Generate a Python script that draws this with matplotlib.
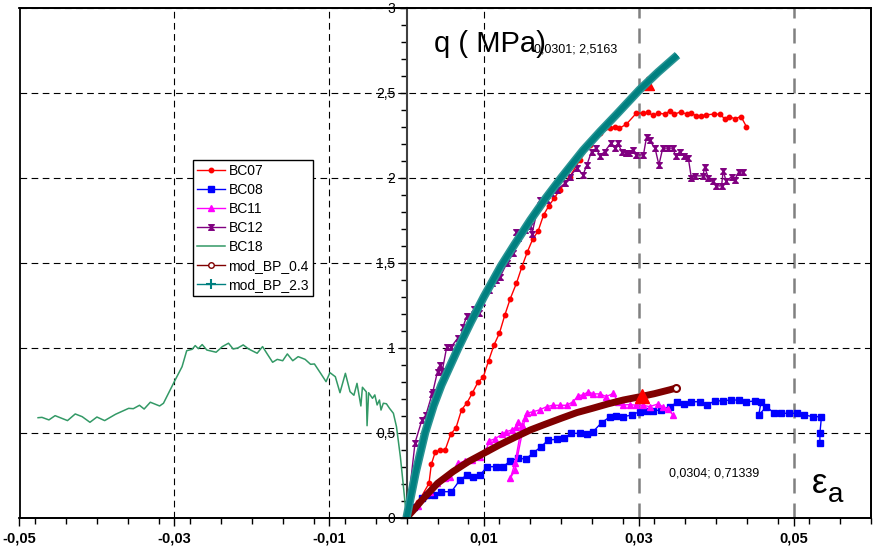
import numpy as np
import matplotlib
matplotlib.use('agg')
import matplotlib.pyplot as plt
from matplotlib.path import Path
from matplotlib.lines import Line2D
from matplotlib.patches import Rectangle
from matplotlib.ticker import FixedLocator, MultipleLocator, FuncFormatter

plt.rcParams['font.family'] = ['Liberation Sans', 'DejaVu Sans']

# test data: axial strain, deviator stress q (MPa)
bc07 = np.array([
    (0, 0), (0.0015, 0.09), (0.0029, 0.202), (0.0032, 0.314), (0.0037, 0.385),
    (0.0043, 0.396), (0.0050, 0.400), (0.0057, 0.490), (0.0064, 0.530),
    (0.0071, 0.634), (0.0078, 0.675), (0.0085, 0.733), (0.0092, 0.795),
    (0.0099, 0.825), (0.0106, 0.923), (0.0113, 1.016), (0.0120, 1.085),
    (0.0127, 1.192), (0.0134, 1.288), (0.0142, 1.379), (0.0149, 1.475),
    (0.0156, 1.562), (0.0163, 1.638), (0.0170, 1.686), (0.0177, 1.780),
    (0.0184, 1.835), (0.0191, 1.880), (0.0198, 1.928), (0.0211, 2.006),
    (0.0224, 2.104), (0.0237, 2.192), (0.0250, 2.261), (0.0263, 2.290),
    (0.0269, 2.300), (0.0275, 2.290), (0.0284, 2.314), (0.0297, 2.379),
    (0.0306, 2.379), (0.0312, 2.385), (0.0318, 2.365), (0.0325, 2.379),
    (0.0334, 2.373), (0.0340, 2.392), (0.0346, 2.373), (0.0354, 2.386),
    (0.0362, 2.373), (0.0368, 2.379), (0.0374, 2.363), (0.0381, 2.363),
    (0.0387, 2.369), (0.0397, 2.373), (0.0405, 2.373), (0.0411, 2.345),
    (0.0417, 2.359), (0.0424, 2.345), (0.0432, 2.359), (0.0439, 2.300)])

bc08 = np.array([
    (0, 0), (0.0009, 0.065), (0.0020, 0.114), (0.0026, 0.134), (0.0036, 0.134),
    (0.0045, 0.153), (0.0058, 0.153), (0.0069, 0.222), (0.0078, 0.251),
    (0.0086, 0.241), (0.0095, 0.251), (0.0104, 0.300), (0.0116, 0.300),
    (0.0125, 0.300), (0.0134, 0.335), (0.0144, 0.349), (0.0154, 0.345),
    (0.0163, 0.379), (0.0174, 0.418), (0.0183, 0.457), (0.0194, 0.461),
    (0.0203, 0.467), (0.0213, 0.496), (0.0224, 0.496), (0.0233, 0.492),
    (0.0241, 0.506), (0.0252, 0.559), (0.0263, 0.594), (0.0271, 0.598),
    (0.0280, 0.594), (0.0291, 0.604), (0.0301, 0.624), (0.0310, 0.628),
    (0.0319, 0.628), (0.0329, 0.634), (0.0340, 0.653), (0.0350, 0.679),
    (0.0359, 0.669), (0.0368, 0.682), (0.0379, 0.682), (0.0388, 0.663),
    (0.0398, 0.686), (0.0409, 0.688), (0.0419, 0.692), (0.0429, 0.692),
    (0.0439, 0.682), (0.0450, 0.686), (0.0458, 0.682), (0.0455, 0.604),
    (0.0465, 0.653), (0.0475, 0.614), (0.0484, 0.614), (0.0494, 0.614),
    (0.0504, 0.614), (0.0514, 0.604), (0.0525, 0.594), (0.0536, 0.594),
    (0.0534, 0.496), (0.0534, 0.441)])

bc11 = np.array([
    (0, 0), (0.0015, 0.070), (0.0030, 0.153), (0.0039, 0.202), (0.0050, 0.231),
    (0.0056, 0.241), (0.0067, 0.320), (0.0075, 0.333), (0.0084, 0.339),
    (0.0095, 0.359), (0.0103, 0.398), (0.0107, 0.453), (0.0114, 0.463),
    (0.0123, 0.490), (0.0129, 0.506), (0.0136, 0.516), (0.0142, 0.535),
    (0.0144, 0.565), (0.0149, 0.545), (0.0140, 0.320), (0.0134, 0.231),
    (0.0140, 0.280), (0.0151, 0.535), (0.0153, 0.584), (0.0155, 0.614),
    (0.0164, 0.624), (0.0172, 0.634), (0.0181, 0.653), (0.0189, 0.661),
    (0.0198, 0.661), (0.0207, 0.661), (0.0215, 0.682), (0.0222, 0.718),
    (0.0228, 0.722), (0.0235, 0.741), (0.0241, 0.728), (0.0250, 0.728),
    (0.0258, 0.712), (0.0267, 0.731), (0.0273, 0.682), (0.0280, 0.663),
    (0.0289, 0.665), (0.0297, 0.661), (0.0306, 0.661), (0.0314, 0.653),
    (0.0325, 0.669), (0.0331, 0.653), (0.0338, 0.638), (0.0344, 0.604)])

bc12 = np.array([
    (0, 0), (0.0011, 0.441), (0.0020, 0.577), (0.0025, 0.604), (0.0033, 0.727),
    (0.0034, 0.741), (0.0040, 0.859), (0.0043, 0.898), (0.0046, 0.860),
    (0.0052, 1.006), (0.0058, 1.006), (0.0066, 1.055), (0.0069, 1.040),
    (0.0073, 1.124), (0.0078, 1.187), (0.0082, 1.180), (0.0087, 1.226),
    (0.0093, 1.202), (0.0098, 1.270), (0.0106, 1.339), (0.0111, 1.379),
    (0.0116, 1.398), (0.0121, 1.418), (0.0130, 1.500), (0.0138, 1.555),
    (0.0142, 1.682), (0.0144, 1.643), (0.0153, 1.692), (0.0159, 1.716),
    (0.0162, 1.670), (0.0172, 1.869), (0.0181, 1.869), (0.0187, 1.908),
    (0.0194, 1.928), (0.0205, 1.967), (0.0211, 2.006), (0.0220, 2.055),
    (0.0228, 2.016), (0.0233, 2.075), (0.0239, 2.153), (0.0245, 2.173),
    (0.0250, 2.127), (0.0256, 2.153), (0.0264, 2.202), (0.0269, 2.173),
    (0.0273, 2.202), (0.0278, 2.153), (0.0283, 2.143), (0.0288, 2.143),
    (0.0293, 2.163), (0.0297, 2.133), (0.0306, 2.133), (0.0310, 2.237),
    (0.0314, 2.218), (0.0321, 2.173), (0.0326, 2.075), (0.0331, 2.173),
    (0.0338, 2.173), (0.0344, 2.173), (0.0348, 2.124), (0.0353, 2.153),
    (0.0359, 2.124), (0.0364, 2.114), (0.0368, 1.997), (0.0372, 2.010),
    (0.0383, 2.010), (0.0385, 2.060), (0.0390, 2.000), (0.0396, 1.977),
    (0.0400, 1.951), (0.0407, 1.951), (0.0409, 2.041), (0.0413, 1.977),
    (0.0420, 2.006), (0.0424, 1.987), (0.0429, 2.033), (0.0434, 2.033)])

bc18 = np.array([
    (-0.0476, 0.588), (-0.0471, 0.590), (-0.0462, 0.575), (-0.0454, 0.600),
    (-0.0438, 0.571), (-0.0428, 0.610), (-0.0419, 0.594), (-0.0409, 0.561),
    (-0.0400, 0.592), (-0.0390, 0.571), (-0.0376, 0.608), (-0.0359, 0.643),
    (-0.0353, 0.641), (-0.0345, 0.661), (-0.0339, 0.639), (-0.0331, 0.679),
    (-0.0319, 0.657), (-0.0314, 0.673), (-0.0300, 0.800), (-0.0290, 0.888),
    (-0.0284, 0.982), (-0.0277, 0.990), (-0.0273, 1.012), (-0.0269, 0.994),
    (-0.0264, 1.018), (-0.0258, 0.986), (-0.0246, 0.973), (-0.0238, 1.006),
    (-0.0230, 1.026), (-0.0224, 0.992), (-0.0218, 0.998), (-0.0211, 1.016),
    (-0.0204, 0.992), (-0.0193, 0.967), (-0.0186, 1.006), (-0.0180, 0.963),
    (-0.0173, 0.914), (-0.0167, 0.931), (-0.0160, 0.923), (-0.0154, 0.963),
    (-0.0147, 0.923), (-0.0140, 0.947), (-0.0131, 0.931), (-0.0124, 0.902),
    (-0.0119, 0.904), (-0.0111, 0.849), (-0.0104, 0.800), (-0.0099, 0.853),
    (-0.0092, 0.829), (-0.0086, 0.735), (-0.0079, 0.849), (-0.0073, 0.741),
    (-0.0068, 0.720), (-0.0064, 0.790), (-0.0059, 0.657), (-0.0057, 0.767),
    (-0.0052, 0.740), (-0.0051, 0.541), (-0.0049, 0.735), (-0.0044, 0.702),
    (-0.0041, 0.722), (-0.0038, 0.663), (-0.0035, 0.692), (-0.0033, 0.633),
    (-0.0030, 0.673), (-0.0026, 0.670), (-0.0022, 0.643), (-0.0017, 0.614),
    (-0.0013, 0.535), (-0.0008, 0.359), (-0.0004, 0.182), (0.0, 0.0)])

# model curves
mod_04 = np.array([
    (0, 0), (0.0009, 0.045), (0.0020, 0.104), (0.0040, 0.202), (0.0060, 0.271),
    (0.0080, 0.330), (0.0100, 0.379), (0.0120, 0.428), (0.0140, 0.473),
    (0.0160, 0.516), (0.0180, 0.551), (0.0200, 0.585), (0.0220, 0.618),
    (0.0240, 0.643), (0.0260, 0.669), (0.0280, 0.692), (0.0304, 0.71339),
    (0.0320, 0.729), (0.0340, 0.752), (0.0348, 0.762)])

mod_23 = np.array([
    (0, 0), (0.0012, 0.27), (0.0024, 0.50), (0.0035, 0.66), (0.0045, 0.78),
    (0.0056, 0.89), (0.0067, 1.00), (0.0083, 1.15), (0.0100, 1.30),
    (0.0122, 1.48), (0.0140, 1.61), (0.0160, 1.75), (0.0180, 1.88),
    (0.0200, 2.00), (0.0228, 2.16), (0.0250, 2.27), (0.0271, 2.37),
    (0.0301, 2.5163), (0.0325, 2.62), (0.0350, 2.72)])

# picked points
pick_x = [0.0301, 0.0304]
pick_y = [2.5163, 0.71339]


def comma(v, pos=None):
    return ('%g' % v).replace('.', ',')


# hourglass marker for BC12
hourglass = Path([(-1, 1), (1, 1), (-1, -1), (1, -1), (-1, 1)],
                 [Path.MOVETO, Path.LINETO, Path.LINETO, Path.LINETO, Path.CLOSEPOLY])
# triangle hanging off its lower-left corner
corner_tri = Path([(0, 0), (2, 0), (1, 1.9), (0, 0)],
                  [Path.MOVETO, Path.LINETO, Path.LINETO, Path.CLOSEPOLY])

fig = plt.figure(figsize=(8.73, 5.46), dpi=100)
ax = fig.add_axes([19.5 / 873, 1 - 517.7 / 546, 851.5 / 873, 510.2 / 546])

ax.plot(bc07[:, 0], bc07[:, 1], color='#ff0000', lw=1, marker='o', ms=3.2, label='BC07')
ax.plot(bc08[:, 0], bc08[:, 1], color='#0000ff', lw=1, marker='s', ms=4, label='BC08')
ax.plot(bc11[:, 0], bc11[:, 1], color='#ff00ff', lw=1, marker='^', ms=4.5, label='BC11')
ax.plot(bc12[:, 0], bc12[:, 1], color='#800080', lw=1, marker=hourglass, ms=4, label='BC12')
ax.plot(bc18[:, 0], bc18[:, 1], color='#339966', lw=1.1, label='BC18')

ax.plot(mod_04[:, 0], mod_04[:, 1], color='#800000', lw=5, solid_capstyle='butt',
        solid_joinstyle='round', zorder=3)
ax.plot(mod_04[-1:, 0], mod_04[-1:, 1], ls='none', marker='o', ms=5, mfc='white',
        mec='#800000', mew=1.5, zorder=3)
ax.plot(pick_x[1:], pick_y[1:], ls='none', marker='^', ms=10, color='#ff0000', zorder=4)

ax.plot(pick_x[:1], pick_y[:1], ls='none', marker=corner_tri, ms=20, color='#ff0000',
        zorder=4)
ax.plot(mod_23[:, 0], mod_23[:, 1], color='#2a9494', lw=6, solid_capstyle='butt',
        solid_joinstyle='round', zorder=5)
ax.plot(mod_23[:, 0], mod_23[:, 1], color='#008080', lw=3.8, solid_capstyle='butt',
        solid_joinstyle='round', zorder=5)

ax.set_xlim(-0.05, 0.06)
ax.set_ylim(0, 3)

# y axis drawn through zero strain, outer frame kept as a box
ax.spines['left'].set_position(('data', 0))
ax.spines['left'].set_color('#404040')
ax.spines['left'].set_linewidth(1.5)
for s in ['top', 'right', 'bottom']:
    ax.spines[s].set_linewidth(1.3)
ax.add_patch(Rectangle((0, 0), 1, 1, transform=ax.transAxes, fill=False,
                       lw=1.3, ec='black', zorder=6, clip_on=False))

ax.xaxis.set_major_locator(FixedLocator([-0.05, -0.03, -0.01, 0.01, 0.03, 0.05]))
ax.xaxis.set_minor_locator(MultipleLocator(0.004))
ax.yaxis.set_major_locator(MultipleLocator(0.5))
ax.yaxis.set_minor_locator(MultipleLocator(0.1))
ax.xaxis.set_major_formatter(FuncFormatter(comma))
ax.yaxis.set_major_formatter(FuncFormatter(comma))
ax.tick_params(axis='x', which='major', direction='out', length=6, width=1, pad=4)
ax.tick_params(axis='x', which='minor', direction='out', length=4, width=1)
ax.tick_params(axis='y', which='major', direction='out', length=5, width=1, pad=3,
               labelsize=10)
ax.tick_params(axis='y', which='minor', direction='out', length=4, width=1)
for lab in ax.get_xticklabels():
    lab.set_family(['Liberation Sans Narrow', 'Liberation Sans', 'DejaVu Sans'])
    lab.set_fontweight('bold')
    lab.set_fontsize(10.5)

ax.grid(True, which='major', color='black', ls=(0, (6, 4)), lw=0.8)
for t in ax.xaxis.get_major_ticks():
    if t.get_loc() > 0.02:
        t.gridline.set_color('#808080')
        t.gridline.set_linewidth(1.8)
ax.set_axisbelow(True)

ax.text(0.01077, 2.741, 'q ( MPa)', fontsize=21, ha='center', va='baseline')
ax.text(0.0165, 2.735, comma(pick_x[0]) + '; ' + comma(pick_y[0]), fontsize=9,
        ha='left', va='baseline')
ax.text(0.0339, 0.241, comma(pick_x[1]) + '; ' + comma(pick_y[1]), fontsize=9,
        ha='left', va='baseline')
ax.text(0.0524, 0.1435, 'ε', fontsize=25, ha='left', va='baseline')
ax.text(0.0544, 0.094, 'a', fontsize=20, ha='left', va='baseline')

handles, labels = ax.get_legend_handles_labels()
handles.append(Line2D([], [], color='#800000', lw=1, marker='o', ms=4, mfc='white',
                      mec='#800000'))
labels.append('mod_BP_0.4')
handles.append(Line2D([], [], color='#008080', lw=1, marker='+', ms=7, mew=1.5))
labels.append('mod_BP_2.3')
leg = ax.legend(handles, labels, loc='upper left', bbox_to_anchor=(193 / 873, 1 - 160 / 546),
                bbox_transform=fig.transFigure, fontsize=10, frameon=True, fancybox=False,
                edgecolor='black', framealpha=1, borderpad=0.3, labelspacing=0.36,
                handlelength=2.0, handletextpad=0.25, borderaxespad=0)
leg.get_frame().set_linewidth(1)

plt.savefig('out.png', dpi=100)
